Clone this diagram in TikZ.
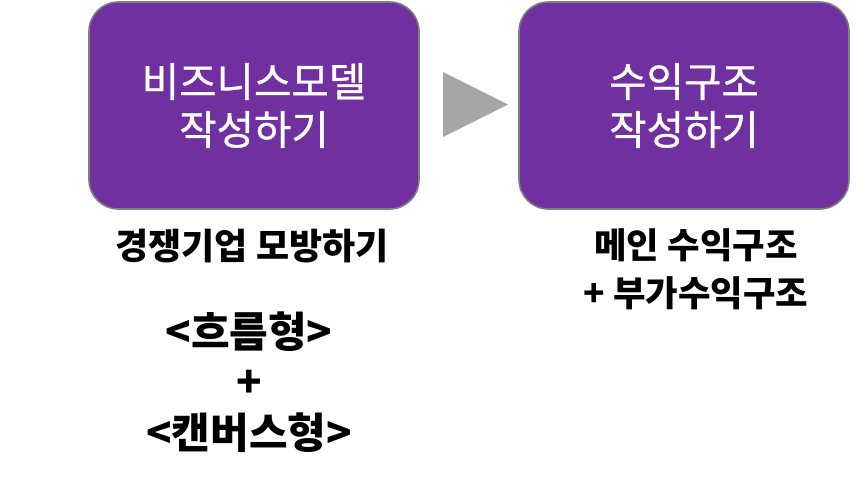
\documentclass[tikz,border=0pt]{standalone}
\usepackage{fontspec}
\setmainfont{Noto Sans CJK KR}
\newfontfamily\medfont[FakeBold=0.8]{Noto Sans CJK KR}
\definecolor{boxpurple}{HTML}{70309F}
\definecolor{boxedge}{HTML}{7F7F7F}
\definecolor{arrowgray}{HTML}{A6A6A6}
\begin{document}
\begin{tikzpicture}[x=0.75pt,y=-0.75pt,
  stagebox/.style={draw=boxedge,line width=1.2pt,fill=boxpurple,rounded corners=22pt,
    minimum width=330*0.75pt,minimum height=207*0.75pt,text=white,align=center,
    font=\medfont\fontsize{30.5pt}{36pt}\selectfont,inner sep=0pt},
  note/.style={align=center,font=\bfseries\fontsize{26.5pt}{36pt}\selectfont,inner sep=0pt}]
\useasboundingbox (0,0) rectangle (868,483);
\node[stagebox] (b1) at (254,105.5) {비즈니스모델\\작성하기};
\node[stagebox] (b2) at (684,105.5) {수익구조\\작성하기};
\coordinate (t1) at (443,72);
\coordinate (t2) at (443,137);
\coordinate (t3) at (508,104.5);
\fill[arrowgray] (t1) -- (t3) -- (t2) -- cycle;
\node[note,font=\bfseries\fontsize{27pt}{36pt}\selectfont] (n1) at (252,246) {경쟁기업 모방하기};
\node[note,font=\bfseries\fontsize{31.5pt}{38pt}\selectfont] (n2) at (249,382) {<흐름형>\\+\\<캔버스형>};
\node[note] (n3) at (696,269) {메인 수익구조\\+ 부가수익구조};
\end{tikzpicture}
\end{document}
